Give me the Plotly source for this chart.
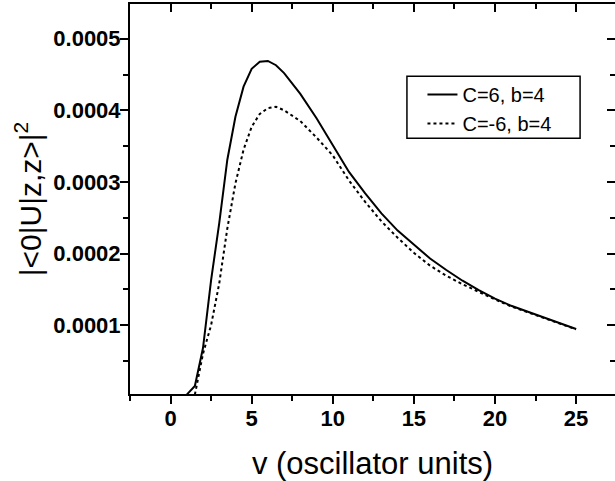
import plotly.graph_objects as go

# Curve C=6, b=4 (solid)
v_pos = [1.0, 1.5, 2.0, 2.5, 3.0, 3.5, 4.0, 4.5, 5.0, 5.5, 6.0, 6.5, 7.0, 8.0, 9.0,
         10, 11, 12, 13, 14, 15, 16, 17, 18, 19, 20, 21, 22, 23, 24, 25]
p_pos = [0.0000030, 0.0000150, 0.0000680, 0.0001630, 0.0002420, 0.0003310, 0.0003910,
         0.0004330, 0.0004580, 0.0004680, 0.0004690, 0.0004630, 0.0004520, 0.0004230,
         0.0003890, 0.0003510, 0.0003140, 0.0002840, 0.0002560, 0.0002320, 0.0002130,
         0.0001930, 0.0001770, 0.0001620, 0.0001490, 0.0001370, 0.0001270, 0.0001190,
         0.0001110, 0.0001020, 0.0000945]

# Curve C=-6, b=4 (dotted)
v_neg = [1.5, 2.0, 2.5, 3.0, 3.5, 4.0, 4.5, 5.0, 5.5, 6.0, 6.5, 7.0, 8.0, 9.0,
         10, 11, 12, 13, 14, 15, 16, 17, 18, 19, 20, 21, 22, 23, 24, 25]
p_neg = [0.0000030, 0.0000600, 0.0001000, 0.0001580, 0.0002350, 0.0002980, 0.0003450,
         0.0003770, 0.0003950, 0.0004030, 0.0004050, 0.0004000, 0.0003850, 0.0003620,
         0.0003370, 0.0003020, 0.0002720, 0.0002450, 0.0002220, 0.0002010, 0.0001830,
         0.0001690, 0.0001570, 0.0001460, 0.0001360, 0.0001260, 0.0001180, 0.0001100,
         0.0001020, 0.0000940]

series_names = ["C=6, b=4", "C=-6, b=4"]

x_range = [-2.5, 27.4]
y_range = [0.0000038, 0.0005485]

FONT = "Liberation Sans"

fig = go.Figure()
fig.add_trace(go.Scatter(x=v_pos, y=p_pos, mode="lines", name=series_names[0],
                         line=dict(color="black", width=2, dash="solid")))
fig.add_trace(go.Scatter(x=v_neg, y=p_neg, mode="lines", name=series_names[1],
                         line=dict(color="black", width=2, dash="dot")))
# dummy trace to activate mirrored axes
fig.add_trace(go.Scatter(x=[None], y=[None], xaxis="x2", yaxis="y2", showlegend=False,
                         hoverinfo="skip"))

tickfont = dict(family=FONT, size=22, color="black", weight="bold")

# legend frame (paper coordinates of the plot area)
fig.add_shape(type="rect", xref="paper", yref="paper",
              x0=0.571, x1=0.928, y0=0.656, y1=0.815,
              line=dict(color="black", width=1.5), fillcolor="rgba(0,0,0,0)")

fig.update_layout(
    width=615, height=481,
    margin=dict(l=130, r=0, t=4, b=87),
    paper_bgcolor="white", plot_bgcolor="white",
    showlegend=True,
    legend=dict(x=0.603, y=0.818, xanchor="left", yanchor="top",
                borderwidth=0, bgcolor="rgba(0,0,0,0)",
                font=dict(family=FONT, size=20, color="black"),
                tracegroupgap=0, itemwidth=30),
    xaxis=dict(range=x_range, showgrid=False, zeroline=False, automargin=False,
               showline=True, linecolor="black", linewidth=2,
               ticks="outside", ticklen=8, tickwidth=2, tickcolor="black",
               tick0=0, dtick=5, tickfont=tickfont, ticklabelstandoff=-4,
               minor=dict(ticks="outside", ticklen=5, tickwidth=2, dtick=2.5,
                          tick0=0, tickcolor="black", showgrid=False),
               title=dict(text="v (oscillator units)",
                          font=dict(family=FONT, size=31, color="black"),
                          standoff=24)),
    xaxis2=dict(range=x_range, overlaying="x", side="top", anchor="y", automargin=False,
                showgrid=False, zeroline=False, showline=True,
                linecolor="black", linewidth=2,
                ticks="inside", ticklen=8, tickwidth=2, tickcolor="black",
                tick0=0, dtick=5, showticklabels=False,
                minor=dict(ticks="inside", ticklen=5, tickwidth=2, dtick=2.5,
                           tick0=0, tickcolor="black", showgrid=False)),
    yaxis=dict(range=y_range, showgrid=False, zeroline=False, automargin=False,
               showline=True, linecolor="black", linewidth=2,
               ticks="outside", ticklen=8, tickwidth=2, tickcolor="black",
               tick0=0, dtick=0.0001, tickformat=".4f", tickfont=tickfont,
               ticklabelstandoff=-5,
               minor=dict(ticks="outside", ticklen=5, tickwidth=2, dtick=0.00005,
                          tick0=0, tickcolor="black", showgrid=False),
               title=dict(text="|&lt;0|U|z,z&gt;|<sup>2</sup>",
                          font=dict(family=FONT, size=30, color="black"),
                          standoff=3)),
    yaxis2=dict(range=y_range, overlaying="y", side="right", anchor="x", automargin=False,
                showgrid=False, zeroline=False, showline=False,
                ticks="inside", ticklen=8, tickwidth=2, tickcolor="black",
                tick0=0, dtick=0.0001, showticklabels=False,
                minor=dict(ticks="inside", ticklen=5, tickwidth=2, dtick=0.00005,
                           tick0=0, tickcolor="black", showgrid=False)),
)

fig.write_html("out.html", config={"displayModeBar": False},
               post_script="document.body.style.margin='0';")
